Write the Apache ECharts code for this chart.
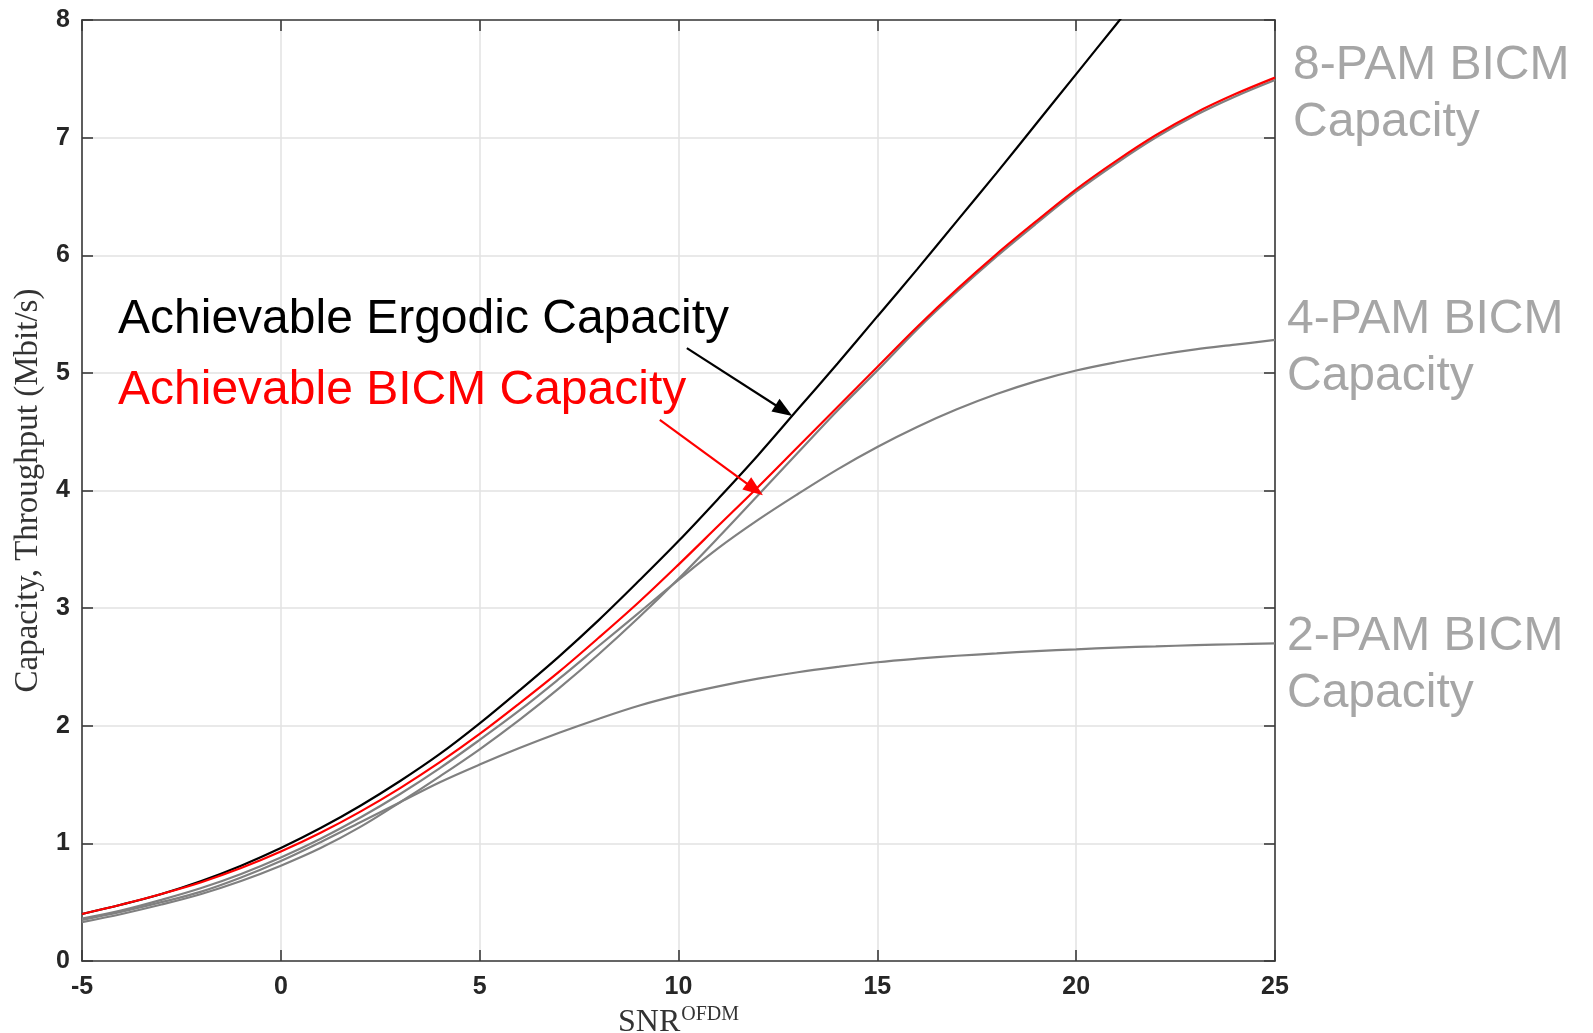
<!DOCTYPE html>
<html>
<head>
<meta charset="utf-8">
<script src="https://cdn.jsdelivr.net/npm/echarts@6/dist/echarts.min.js"></script>
<style>
html,body{margin:0;padding:0;background:#fff;}
#chart{width:1593px;height:1033px;}
</style>
</head>
<body>
<div id="chart"></div>
<script>
// ---- data ----
const snr = [-5,-4,-3,-2,-1,0,1,2,3,4,5,6,7,8,9,10,11,12,13,14,15,16,17,18,19,20,21,22,23,24,25];
const snrErgodic = [-5,-4,-3,-2,-1,0,1,2,3,4,5,6,7,8,9,10,11,12,13,14,15,16,17,18,19,20,21,22];
const ergodicCap = [0.40,0.48,0.57,0.68,0.81,0.96,1.13,1.32,1.53,1.76,2.02,2.30,2.59,2.90,3.23,3.57,3.93,4.30,4.69,5.08,5.48,5.88,6.29,6.70,7.12,7.54,7.96,8.38];
const bicmCap = [0.40,0.48,0.57,0.67,0.79,0.93,1.09,1.27,1.47,1.69,1.93,2.19,2.46,2.75,3.05,3.37,3.70,4.03,4.37,4.71,5.05,5.39,5.71,6.01,6.29,6.56,6.80,7.02,7.21,7.37,7.51];
const pam8Cap = [0.33,0.40,0.48,0.57,0.68,0.81,0.96,1.14,1.35,1.57,1.80,2.05,2.32,2.61,2.92,3.25,3.60,3.96,4.32,4.68,5.02,5.37,5.69,5.99,6.27,6.54,6.78,7.00,7.19,7.35,7.49];
const pam4Cap = [0.36,0.43,0.52,0.62,0.74,0.88,1.04,1.22,1.42,1.64,1.88,2.13,2.40,2.68,2.96,3.24,3.51,3.75,3.97,4.18,4.37,4.54,4.69,4.82,4.93,5.02,5.09,5.15,5.20,5.24,5.28];
const pam2Cap = [0.35,0.42,0.50,0.59,0.71,0.85,1.01,1.18,1.35,1.52,1.67,1.81,1.94,2.06,2.17,2.26,2.335,2.40,2.455,2.50,2.54,2.57,2.595,2.615,2.635,2.65,2.665,2.675,2.685,2.693,2.70];
const xTicks = [-5,0,5,10,15,20,25];
const yTicks = [0,1,2,3,4,5,6,7,8];
const annotations = ["Achievable Ergodic Capacity", "Achievable BICM Capacity"];
const rightLabels = [["8-PAM BICM","Capacity"],["4-PAM BICM","Capacity"],["2-PAM BICM","Capacity"]];
// arrow endpoints in data coordinates [snr, capacity]
const ergodicArrow = [[10.21,5.21],[12.65,4.68]];
const bicmArrow = [[9.53,4.60],[11.92,4.01]];

const zip = (xs, ys) => ys.map((y,i)=>[xs[i], y]);

const chart = echarts.init(document.getElementById('chart'), null, {renderer:'canvas'});
const axisColor = '#3a3a3a';
const tickFont = {fontFamily:'Liberation Sans, Arial, sans-serif', fontWeight:'bold', fontSize:25, color:'#262626'};

function lineSeries(name, xs, ys, color, z) {
  return {
    name, type:'line', data: zip(xs, ys), showSymbol:false, symbol:'none',
    smooth:0.35, clip:true, z,
    lineStyle:{color, width:2.2}, itemStyle:{color}
  };
}

const option = {
  animation:false,
  backgroundColor:'#ffffff',
  grid:{left:82, right:318, top:20, bottom:72, containLabel:false, outerBoundsMode:'none'},
  xAxis:[{
    type:'value', min:-5, max:25, interval:5,
    name:'{a|SNR}{b|OFDM}', nameLocation:'middle', nameGap:40,
    nameTextStyle:{
      rich:{
        a:{fontFamily:'Liberation Serif, Times New Roman, serif', fontSize:32, color:'#333', verticalAlign:'bottom', lineHeight:34},
        b:{fontFamily:'Liberation Serif, Times New Roman, serif', fontSize:20, color:'#333', verticalAlign:'top', lineHeight:34, padding:[0,0,14,1]}
      }
    },
    axisLine:{show:true, onZero:false, lineStyle:{color:axisColor, width:1.6}},
    axisTick:{show:true, inside:true, length:11, lineStyle:{color:axisColor, width:1.6}},
    axisLabel:Object.assign({margin:14}, tickFont),
    splitLine:{show:true, lineStyle:{color:'#e2e2e2', width:1.5}}
  },{
    type:'value', min:-5, max:25, interval:5, position:'top',
    axisLine:{show:true, onZero:false, lineStyle:{color:axisColor, width:1.6}},
    axisTick:{show:true, inside:true, length:11, lineStyle:{color:axisColor, width:1.6}},
    axisLabel:{show:false}, splitLine:{show:false}
  }],
  yAxis:[{
    type:'value', min:0, max:8, interval:1,
    name:'Capacity, Throughput (Mbit/s)', nameLocation:'middle', nameGap:37, nameRotate:90,
    nameTextStyle:{fontFamily:'Liberation Serif, Times New Roman, serif', fontSize:33, color:'#333'},
    axisLine:{show:true, onZero:false, lineStyle:{color:axisColor, width:1.6}},
    axisTick:{show:true, inside:true, length:11, lineStyle:{color:axisColor, width:1.6}},
    axisLabel:Object.assign({margin:12}, tickFont),
    splitLine:{show:true, lineStyle:{color:'#e2e2e2', width:1.5}}
  },{
    type:'value', min:0, max:8, interval:1, position:'right',
    axisLine:{show:true, onZero:false, lineStyle:{color:axisColor, width:1.6}},
    axisTick:{show:true, inside:true, length:11, lineStyle:{color:axisColor, width:1.6}},
    axisLabel:{show:false}, splitLine:{show:false}
  }],
  series:[
    lineSeries('2-PAM BICM', snr, pam2Cap, '#808080', 2),
    lineSeries('4-PAM BICM', snr, pam4Cap, '#808080', 2),
    lineSeries('8-PAM BICM', snr, pam8Cap, '#808080', 2),
    Object.assign(lineSeries('Ergodic', snrErgodic, ergodicCap, '#000000', 3), {
      markLine:{
        silent:true, animation:false, symbol:['none','triangle'], symbolSize:[15,20],
        label:{show:false}, lineStyle:{color:'#000', width:2.2, type:'solid'},
        data:[[{coord:ergodicArrow[0]},{coord:ergodicArrow[1]}]]
      }
    }),
    Object.assign(lineSeries('BICM', snr, bicmCap, '#ff0000', 4), {
      markLine:{
        silent:true, animation:false, symbol:['none','triangle'], symbolSize:[15,20],
        label:{show:false}, lineStyle:{color:'#ff0000', width:2.2, type:'solid'},
        data:[[{coord:bicmArrow[0]},{coord:bicmArrow[1]}]]
      }
    })
  ],
  graphic:[
    {type:'text', left:118, top:296, z:100, style:{text:annotations[0], fill:'#000', font:'48px "Liberation Sans", Arial, sans-serif'}},
    {type:'text', left:118, top:367, z:100, style:{text:annotations[1], fill:'#ff0000', font:'48px "Liberation Sans", Arial, sans-serif'}},
    {type:'text', left:1293, top:37, z:100, style:{text:rightLabels[0].join('\n'), fill:'#a6a6a6', font:'48px "Liberation Sans", Arial, sans-serif', lineHeight:57}},
    {type:'text', left:1287, top:291, z:100, style:{text:rightLabels[1].join('\n'), fill:'#a6a6a6', font:'48px "Liberation Sans", Arial, sans-serif', lineHeight:57}},
    {type:'text', left:1287, top:608, z:100, style:{text:rightLabels[2].join('\n'), fill:'#a6a6a6', font:'48px "Liberation Sans", Arial, sans-serif', lineHeight:57}}
  ]
};
chart.setOption(option);
</script>
</body>
</html>
